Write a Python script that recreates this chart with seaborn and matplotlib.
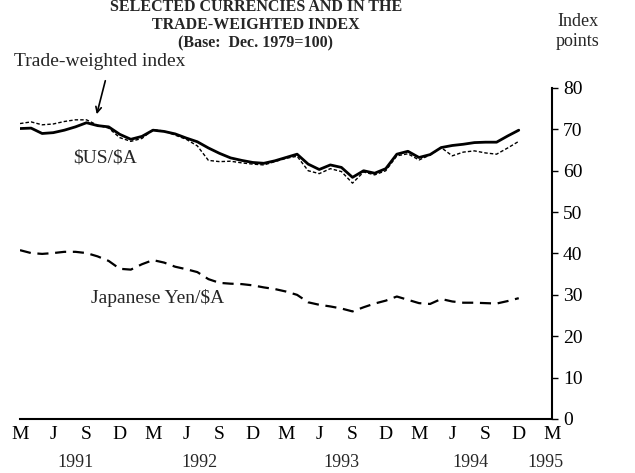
import numpy as np
import pandas as pd
import matplotlib
matplotlib.use('Agg')
import matplotlib.pyplot as plt
import matplotlib.transforms as mtransforms
import seaborn as sns

# ==== DATA (monthly, Mar 1991 .. Dec 1994) ====
us_aud = [70.2, 70.3, 69.0, 69.2, 69.8, 70.6, 71.6, 70.9, 70.6, 68.8, 67.6, 68.3,
          69.8, 69.5, 68.9, 67.9, 67.0, 65.5, 64.2, 63.1, 62.5, 62.0, 61.8, 62.4,
          63.2, 64.0, 61.6, 60.3, 61.4, 60.8, 58.4, 60.0, 59.4, 60.5, 64.0, 64.7,
          63.2, 63.9, 65.6, 66.1, 66.4, 66.8, 66.9, 66.9, 68.4, 69.8]
twi = [71.4, 71.8, 71.1, 71.3, 71.9, 72.3, 72.3, 71.0, 70.3, 68.0, 67.1, 67.8,
       69.9, 69.6, 68.6, 67.6, 66.0, 62.5, 62.2, 62.3, 61.9, 61.6, 61.4, 62.2,
       63.0, 63.5, 60.0, 59.3, 60.5, 59.8, 57.0, 59.7, 59.0, 60.0, 63.6, 64.1,
       62.6, 63.8, 65.6, 63.6, 64.5, 64.8, 64.3, 64.0, 65.5, 67.1]
yen_aud = [40.8, 40.1, 39.9, 40.1, 40.4, 40.4, 40.1, 39.3, 38.2, 36.3, 36.1, 37.4,
           38.4, 37.8, 36.8, 36.2, 35.5, 33.8, 32.9, 32.7, 32.6, 32.3, 31.8, 31.4,
           30.8, 30.0, 28.2, 27.6, 27.2, 26.7, 26.0, 27.0, 27.9, 28.6, 29.6, 28.8,
           28.0, 27.8, 29.0, 28.4, 28.1, 28.1, 28.0, 27.9, 28.5, 29.2]

month_letters = ['M', 'J', 'S', 'D']
years = ['1991', '1992', '1993', '1994', '1995']
year_pos = [5.0, 16.2, 29.0, 40.6, 47.4]
y_ticks = [0, 10, 20, 30, 40, 50, 60, 70, 80]

months = np.arange(len(us_aud))
df = pd.DataFrame({'month': months, 'us': us_aud, 'twi': twi, 'yen': yen_aud})

# ==== PLOT ====
sns.set_style('white')
plt.rcParams['font.family'] = ['Liberation Serif', 'DejaVu Serif']

fig = plt.figure(figsize=(6.35, 4.73), dpi=100)
ax = fig.add_axes([0.0315, 0.1142, 0.8378, 0.6998])

sns.lineplot(data=df, x='month', y='us', ax=ax, color='black', lw=2.0)
sns.lineplot(data=df, x='month', y='twi', ax=ax, color='black', lw=1.0,
             linestyle=(0, (2.5, 1.5)))
sns.lineplot(data=df, x='month', y='yen', ax=ax, color='black', lw=1.6,
             linestyle=(0, (5, 3)))

ax.set_xlim(0, 48)
ax.set_ylim(0, 80)
ax.set_xlabel('')
ax.set_ylabel('')

# x ticks: every month, letters each quarter
xt = np.arange(0, 49)
xl = [month_letters[(m // 3) % 4] if m % 3 == 0 else '' for m in xt]
ax.set_xticks(xt)
ax.set_xticklabels(xl, fontsize=14)
ax.tick_params(axis='x', direction='out', length=5, width=1, pad=0, colors='black')

ax.yaxis.tick_right()
ax.set_yticks(y_ticks)
ax.set_yticklabels([str(v) for v in y_ticks], fontsize=14)
ax.tick_params(axis='y', direction='out', length=4, width=1, pad=4, colors='black')

for s in ['top', 'left']:
    ax.spines[s].set_visible(False)
for s in ['right', 'bottom']:
    ax.spines[s].set_visible(True)
    ax.spines[s].set_color('black')
    ax.spines[s].set_linewidth(1.5)

# year labels under the month letters
trans = mtransforms.blended_transform_factory(ax.transData, fig.transFigure)
for yr, p in zip(years, year_pos):
    ax.text(p, 1 - 462 / 473, yr, transform=trans, ha='center', va='center',
            fontsize=13)

# titles
fig.text(256 / 635, 1 - 7 / 473, 'SELECTED CURRENCIES AND IN THE', ha='center',
         va='center', fontsize=11.5, fontweight='bold')
fig.text(256 / 635, 1 - 25 / 473, 'TRADE-WEIGHTED INDEX', ha='center',
         va='center', fontsize=11.5, fontweight='bold')
fig.text(256 / 635, 1 - 43 / 473, '(Base:  Dec. 1979=100)', ha='center',
         va='center', fontsize=11.5, fontweight='bold')
fig.text(578 / 635, 1 - 21 / 473, 'Index', ha='center', va='center', fontsize=13)
fig.text(578 / 635, 1 - 42 / 473, 'points', ha='center', va='center', fontsize=13)

# annotations
fig.text(14 / 635, 1 - 62 / 473, 'Trade-weighted index', ha='left', va='center',
         fontsize=14)
ax.annotate('', xy=(6.86, 73.0), xytext=(7.76, 82.4), annotation_clip=False,
            arrowprops=dict(arrowstyle='->', lw=1.2, color='black'))
ax.text(7.67, 63.0, r'\$US/\$A', ha='center', va='center', fontsize=14)
ax.text(12.4, 29.2, r'Japanese Yen/\$A', ha='center', va='center', fontsize=14)

fig.savefig('out.png', dpi=100)
